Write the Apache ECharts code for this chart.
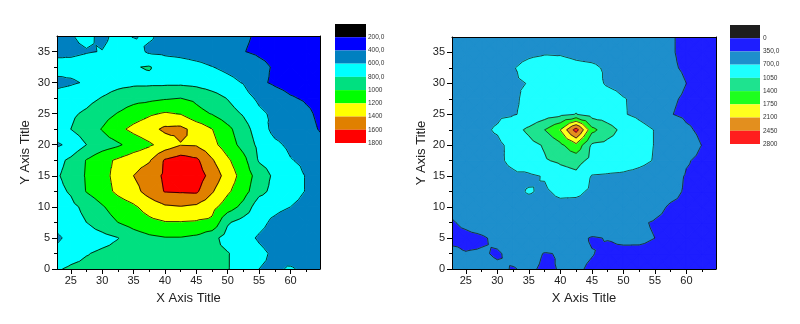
<!DOCTYPE html>
<html>
<head>
<meta charset="utf-8">
<title>Contour plots</title>
<script src="https://cdn.jsdelivr.net/npm/echarts@6.0.0/dist/echarts.min.js"></script>
<style>
  html, body { margin: 0; padding: 0; background: #fff; }
  #chart { width: 800px; height: 324px; }
</style>
</head>
<body>
<div id="chart"></div>
<script>
// grid nodes shared by both plots
var xNodes = [22.8, 25, 27.5, 30, 32.5, 35, 37.5, 40, 42.5, 45, 47.5, 50, 52.5, 55, 57.5, 60, 62.5, 64.7];
var yNodes = [0, 2.5, 5, 7.5, 10, 12.5, 15, 17.5, 20, 22.5, 25, 27.5, 30, 32.5, 35, 37.5];

var xTicks = [25, 30, 35, 40, 45, 50, 55, 60];
var xMinorTicks = [27.5, 32.5, 37.5, 42.5, 47.5, 52.5, 57.5, 62.5];
var yTicks = [0, 5, 10, 15, 20, 25, 30, 35];
var yMinorTicks = [2.5, 7.5, 12.5, 17.5, 22.5, 27.5, 32.5];

// left plot, one row per y node (bottom -> top)
var zLeft = [
  [780, 830, 850, 860, 870, 880, 880, 880, 870, 860, 840, 810, 700, 600, 570, 620, 560, 500],
  [650, 720, 790, 830, 850, 880, 900, 910, 900, 880, 840, 810, 720, 640, 570, 510, 490, 470],
  [570, 650, 700, 740, 795, 900, 960, 990, 990, 960, 860, 720, 660, 580, 520, 480, 470, 460],
  [660, 720, 800, 900, 1000, 1080, 1150, 1190, 1190, 1180, 1160, 820, 720, 650, 560, 490, 460, 440],
  [700, 750, 850, 980, 1100, 1170, 1280, 1370, 1390, 1360, 1260, 1100, 940, 680, 650, 600, 540, 510],
  [750, 820, 1010, 1120, 1240, 1330, 1480, 1610, 1620, 1630, 1420, 1230, 1080, 860, 740, 680, 590, 550],
  [780, 870, 1020, 1140, 1260, 1400, 1510, 1630, 1720, 1700, 1530, 1310, 1120, 910, 760, 690, 590, 550],
  [740, 840, 1010, 1140, 1230, 1320, 1380, 1620, 1700, 1640, 1420, 1230, 1060, 780, 720, 610, 560, 520],
  [570, 650, 800, 900, 970, 1080, 1170, 1280, 1390, 1380, 1260, 1100, 930, 750, 640, 560, 510, 440],
  [760, 800, 900, 1010, 1150, 1250, 1330, 1440, 1450, 1330, 1205, 1050, 880, 700, 540, 490, 450, 390],
  [720, 770, 830, 920, 1010, 1100, 1170, 1220, 1190, 1060, 990, 880, 780, 640, 560, 500, 430, 370],
  [660, 690, 740, 810, 880, 930, 950, 980, 1000, 960, 880, 790, 680, 560, 480, 415, 380, 350],
  [560, 580, 615, 700, 740, 760, 760, 760, 760, 740, 700, 650, 590, 430, 375, 340, 320, 310],
  [660, 650, 670, 700, 740, 790, 812, 720, 690, 650, 605, 560, 520, 450, 380, 350, 330, 320],
  [560, 570, 590, 605, 660, 680, 570, 555, 540, 520, 500, 470, 405, 370, 340, 320, 300, 290],
  [560, 590, 640, 560, 650, 590, 620, 560, 530, 500, 480, 450, 420, 380, 340, 320, 300, 290]
];
var levelsLeft = [200, 400, 600, 800, 1000, 1200, 1400, 1600, 1800];
var levelLabelsLeft = ['200,0', '400,0', '600,0', '800,0', '1000', '1200', '1400', '1600', '1800'];
var colorsLeft = ['#000000', '#0000ff', '#0080c0', '#00ffff', '#00e080', '#00ff00', '#ffff00', '#e08000', '#ff0000'];

// right plot
var zRight = [
  [450, 420, 400, 380, 340, 380, 320, 360, 380, 320, 280, 260, 250, 240, 230, 220, 210, 200],
  [420, 360, 370, 330, 400, 420, 340, 360, 400, 360, 300, 290, 300, 290, 260, 250, 240, 230],
  [280, 290, 320, 400, 470, 520, 520, 480, 420, 330, 360, 400, 390, 350, 290, 260, 250, 240],
  [330, 400, 470, 520, 560, 580, 590, 600, 590, 560, 500, 430, 380, 330, 290, 270, 260, 250],
  [420, 460, 510, 550, 590, 600, 600, 620, 600, 580, 580, 560, 520, 420, 320, 300, 280, 260],
  [480, 500, 530, 570, 640, 720, 660, 760, 760, 650, 620, 580, 540, 500, 420, 320, 280, 260],
  [500, 530, 570, 610, 650, 650, 720, 900, 970, 680, 660, 640, 600, 540, 450, 330, 290, 270],
  [510, 540, 590, 650, 760, 900, 1020, 1100, 1170, 950, 900, 860, 780, 680, 560, 370, 300, 290],
  [520, 560, 620, 640, 780, 940, 1080, 1320, 1650, 1000, 950, 880, 800, 690, 580, 460, 345, 300],
  [550, 600, 650, 730, 920, 1120, 1400, 1760, 2600, 1500, 1200, 950, 800, 690, 560, 390, 300, 290],
  [560, 590, 620, 650, 680, 760, 870, 960, 1060, 900, 850, 720, 640, 540, 360, 300, 270, 250],
  [560, 580, 620, 650, 660, 760, 850, 900, 920, 900, 850, 715, 640, 540, 380, 320, 280, 260],
  [560, 580, 620, 650, 680, 705, 800, 850, 860, 820, 660, 600, 560, 500, 430, 350, 300, 270],
  [560, 580, 610, 650, 690, 760, 800, 820, 770, 750, 660, 600, 540, 470, 380, 320, 280, 260],
  [560, 570, 590, 610, 630, 660, 680, 670, 630, 600, 580, 550, 510, 450, 370, 300, 260, 240],
  [560, 570, 580, 590, 600, 610, 620, 620, 610, 590, 560, 520, 480, 440, 370, 300, 260, 240]
];
var levelsRight = [0, 350, 700, 1050, 1400, 1750, 2100, 2450, 2800];
var levelLabelsRight = ['0', '350,0', '700,0', '1050', '1400', '1750', '2100', '2450', '2800'];
var colorsRight = ['#1e1e1e', '#1e1eff', '#1e8fcc', '#1effff', '#1ee38f', '#1eff1e', '#ffff1e', '#e38f1e', '#ff1e1e'];

var FONT = '"Liberation Sans", Arial, sans-serif';
var xMin = xNodes[0], xMax = xNodes[xNodes.length - 1];
var yMin = yNodes[0], yMax = yNodes[yNodes.length - 1];

function makeCells() {
  var cells = [];
  for (var j = 0; j < yNodes.length - 1; j++) {
    for (var i = 0; i < xNodes.length - 1; i++) {
      cells.push([xNodes[i], yNodes[j], i, j]);
    }
  }
  return cells;
}

// split a cell into 4 triangles around its centre
function cellTriangles(api, z, i, j) {
  var x0 = xNodes[i], x1 = xNodes[i + 1], y0 = yNodes[j], y1 = yNodes[j + 1];
  var a = api.coord([x0, y0]), b = api.coord([x1, y0]);
  var d = api.coord([x1, y1]), e = api.coord([x0, y1]);
  var c = api.coord([(x0 + x1) / 2, (y0 + y1) / 2]);
  var va = z[j][i], vb = z[j][i + 1], vd = z[j + 1][i + 1], ve = z[j + 1][i];
  var vc = (va + vb + vd + ve) / 4;
  return [
    [[a, b, c], [va, vb, vc]],
    [[b, d, c], [vb, vd, vc]],
    [[d, e, c], [vd, ve, vc]],
    [[e, a, c], [ve, va, vc]]
  ];
}

// keep the part of a polygon above (or below) a level
function clipPoly(pts, vals, level, keepAbove) {
  var out = [], outV = [];
  var n = pts.length;
  for (var k = 0; k < n; k++) {
    var p = pts[k], q = pts[(k + 1) % n];
    var a = vals[k] - level, b = vals[(k + 1) % n] - level;
    if (!keepAbove) { a = -a; b = -b; }
    if (a >= 0) { out.push(p); outV.push(vals[k]); }
    if ((a >= 0) !== (b >= 0)) {
      var t = a / (a - b);
      out.push([p[0] + t * (q[0] - p[0]), p[1] + t * (q[1] - p[1])]);
      outV.push(level);
    }
  }
  return [out, outV];
}

function fillRenderer(z, levels, colors) {
  return function (params, api) {
    var tris = cellTriangles(api, z, api.value(2), api.value(3));
    var children = [];
    tris.forEach(function (t) {
      var lo = Math.min.apply(null, t[1]), hi = Math.max.apply(null, t[1]);
      for (var k = 0; k < colors.length; k++) {
        var bLo = k === 0 ? -Infinity : levels[k - 1];
        var bHi = k === colors.length - 1 ? Infinity : levels[k];
        if (hi < bLo || lo > bHi) continue;
        var r = [t[0], t[1]];
        if (bLo > -Infinity) r = clipPoly(r[0], r[1], bLo, true);
        if (r[0].length >= 3 && bHi < Infinity) r = clipPoly(r[0], r[1], bHi, false);
        if (r[0].length >= 3) {
          children.push({
            type: 'polygon',
            shape: { points: r[0] },
            // same-colour stroke hides the seams between triangles
            style: { fill: colors[k], stroke: colors[k], lineWidth: 1.2, lineJoin: 'round' }
          });
        }
      }
    });
    return { type: 'group', children: children };
  };
}

function lineRenderer(z, levels, color) {
  return function (params, api) {
    var tris = cellTriangles(api, z, api.value(2), api.value(3));
    var children = [];
    tris.forEach(function (t) {
      var p = t[0], v = t[1];
      levels.forEach(function (L) {
        var pts = [];
        for (var k = 0; k < 3; k++) {
          var a = v[k], b = v[(k + 1) % 3];
          if ((a < L) !== (b < L)) {
            var s = (L - a) / (b - a);
            var P = p[k], Q = p[(k + 1) % 3];
            pts.push([P[0] + s * (Q[0] - P[0]), P[1] + s * (Q[1] - P[1])]);
          }
        }
        if (pts.length === 2) {
          children.push({
            type: 'line',
            shape: { x1: pts[0][0], y1: pts[0][1], x2: pts[1][0], y2: pts[1][1] },
            style: { stroke: color, lineWidth: 0.8 }
          });
        }
      });
    });
    return { type: 'group', children: children };
  };
}

function legendRenderer(colors) {
  return function (params, api) {
    var k = api.value(1);
    var p0 = api.coord([0, k]), p1 = api.coord([1, k + 1]);
    return {
      type: 'rect',
      shape: { x: p0[0], y: p0[1], width: p1[0] - p0[0], height: p1[1] - p0[1] },
      style: { fill: colors[k] }
    };
  };
}

var labelStyle = { fontSize: 11, color: '#222', fontFamily: FONT };
var nameStyle = { fontSize: 13, color: '#222', fontFamily: FONT };

function xAxesFor(g) {
  return [
    {
      type: 'value', gridIndex: g, min: xMin, max: xMax, position: 'bottom', z: 10,
      name: 'X Axis Title', nameLocation: 'middle', nameGap: 23, nameTextStyle: nameStyle,
      axisLine: { show: true, onZero: false, lineStyle: { color: '#000', width: 1 } },
      axisTick: { show: true, length: 5, customValues: xTicks, lineStyle: { color: '#000' } },
      axisLabel: Object.assign({ customValues: xTicks, margin: 6 }, labelStyle),
      splitLine: { show: false }
    },
    {
      type: 'value', gridIndex: g, min: xMin, max: xMax, position: 'bottom', z: 10,
      axisLine: { show: false },
      axisTick: { show: true, length: 3, customValues: xMinorTicks, lineStyle: { color: '#000' } },
      axisLabel: { show: false }, splitLine: { show: false }
    },
    {
      type: 'value', gridIndex: g, min: xMin, max: xMax, position: 'top', z: 10,
      axisLine: { show: true, onZero: false, lineStyle: { color: '#000', width: 1 } },
      axisTick: { show: false }, axisLabel: { show: false }, splitLine: { show: false }
    }
  ];
}

function yAxesFor(g, gap) {
  return [
    {
      type: 'value', gridIndex: g, min: yMin, max: yMax, position: 'left', z: 10,
      name: 'Y Axis Title', nameLocation: 'middle', nameGap: gap, nameTextStyle: nameStyle,
      axisLine: { show: true, onZero: false, lineStyle: { color: '#000', width: 1 } },
      axisTick: { show: true, length: 5, customValues: yTicks, lineStyle: { color: '#000' } },
      axisLabel: Object.assign({ customValues: yTicks, margin: 7 }, labelStyle),
      splitLine: { show: false }
    },
    {
      type: 'value', gridIndex: g, min: yMin, max: yMax, position: 'left', z: 10,
      axisLine: { show: false },
      axisTick: { show: true, length: 3, customValues: yMinorTicks, lineStyle: { color: '#000' } },
      axisLabel: { show: false }, splitLine: { show: false }
    },
    {
      type: 'value', gridIndex: g, min: yMin, max: yMax, position: 'right', z: 10,
      axisLine: { show: true, onZero: false, lineStyle: { color: '#000', width: 1 } },
      axisTick: { show: false }, axisLabel: { show: false }, splitLine: { show: false }
    }
  ];
}

function legendYAxis(g, labels, margin) {
  return {
    type: 'value', gridIndex: g, min: 0, max: 9, inverse: true, position: 'right',
    axisLine: { show: false }, axisTick: { show: false }, splitLine: { show: false },
    axisLabel: {
      customValues: [1, 2, 3, 4, 5, 6, 7, 8, 9], margin: margin,
      fontSize: 6.5, color: '#333', fontFamily: FONT,
      formatter: function (v) { return labels[Math.round(v) - 1]; }
    }
  };
}

var cells = makeCells();
var legendData = colorsLeft.map(function (c, k) { return [0.5, k]; });

var chart = echarts.init(document.getElementById('chart'), null, { renderer: 'canvas' });
chart.setOption({
  animation: false,
  backgroundColor: '#fff',
  grid: [
    { left: 57, top: 36, width: 263, height: 233 },
    { left: 452, top: 37, width: 264, height: 232 },
    { left: 335, top: 24, width: 31, height: 119 },
    { left: 730, top: 25, width: 30, height: 119 }
  ],
  xAxis: xAxesFor(0).concat(xAxesFor(1)).concat([
    { type: 'value', gridIndex: 2, min: 0, max: 1, show: false },
    { type: 'value', gridIndex: 3, min: 0, max: 1, show: false }
  ]),
  yAxis: yAxesFor(0, 25).concat(yAxesFor(1, 24)).concat([
    legendYAxis(2, levelLabelsLeft, 2),
    legendYAxis(3, levelLabelsRight, 3)
  ]),
  series: [
    {
      type: 'custom', xAxisIndex: 0, yAxisIndex: 0, clip: true, silent: true, z: 2,
      encode: { x: 0, y: 1 }, data: cells, renderItem: fillRenderer(zLeft, levelsLeft, colorsLeft)
    },
    {
      type: 'custom', xAxisIndex: 0, yAxisIndex: 0, clip: true, silent: true, z: 3,
      encode: { x: 0, y: 1 }, data: cells, renderItem: lineRenderer(zLeft, levelsLeft, '#000')
    },
    {
      type: 'custom', xAxisIndex: 3, yAxisIndex: 3, clip: true, silent: true, z: 2,
      encode: { x: 0, y: 1 }, data: cells, renderItem: fillRenderer(zRight, levelsRight, colorsRight)
    },
    {
      type: 'custom', xAxisIndex: 3, yAxisIndex: 3, clip: true, silent: true, z: 3,
      encode: { x: 0, y: 1 }, data: cells, renderItem: lineRenderer(zRight, levelsRight, '#1a1a1a')
    },
    {
      type: 'custom', xAxisIndex: 6, yAxisIndex: 6, silent: true,
      encode: { x: 0, y: 1 }, data: legendData, renderItem: legendRenderer(colorsLeft)
    },
    {
      type: 'custom', xAxisIndex: 7, yAxisIndex: 7, silent: true,
      encode: { x: 0, y: 1 }, data: legendData, renderItem: legendRenderer(colorsRight)
    }
  ]
});
</script>
</body>
</html>
